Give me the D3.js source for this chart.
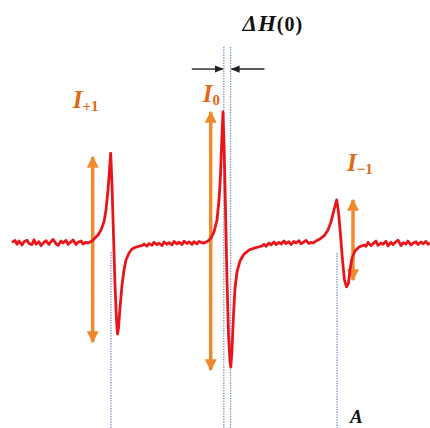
<!DOCTYPE html>
<html>
<head>
<meta charset="utf-8">
<script src="https://cdn.jsdelivr.net/npm/d3@7/dist/d3.min.js"></script>
<style>
  html, body { margin: 0; padding: 0; background: #fff; }
  svg { display: block; }
</style>
</head>
<body>
<div id="chart"></div>
<script>
"use strict";

// == DATA ==
// EPR spectrum, [field (G), signal (normalised)]
var baselineLeft = [
  [3312, 0.005], [3315, 0.02], [3317, -0.01], [3319, 0.015], [3322, -0.015],
  [3324, 0.01], [3327, 0.022], [3329, -0.004], [3332, -0.012], [3334, 0.025],
  [3336, -0.008], [3339, 0.01], [3341, -0.02], [3344, 0.005], [3346, 0.018],
  [3349, -0.01], [3351, 0.012], [3353, 0.028], [3356, -0.005], [3358, -0.018],
  [3361, 0.015], [3363, 0.0], [3366, 0.02], [3368, -0.01], [3371, 0.008],
  [3373, 0.024], [3376, -0.012], [3378, 0.005], [3381, 0.016], [3383, -0.008],
  [3386, 0.006]
];
var linePlus1 = [
  [3388, 0], [3392, 0.015], [3395, 0.038], [3398, 0.062], [3401, 0.1],
  [3404, 0.162], [3406, 0.254], [3408, 0.408], [3409.5, 0.562], [3410.7, 0.692],
  [3412, 0.446], [3413.5, 0.062], [3415, -0.323], [3416.5, -0.592], [3417.5, -0.7],
  [3418.5, -0.654], [3420, -0.5], [3422, -0.323], [3424, -0.208], [3426, -0.131],
  [3429, -0.077], [3432, -0.046], [3436, -0.031], [3440, -0.023]
];
var baselineMid1 = [
  [3442, -0.02], [3444, -0.008], [3447, -0.024], [3449, -0.005], [3452, -0.018],
  [3454, 0.005], [3457, -0.012], [3459, -0.002], [3462, -0.02], [3464, 0.008],
  [3467, -0.01], [3469, 0.003], [3472, -0.014], [3474, 0.012], [3477, -0.006],
  [3479, 0.006], [3482, -0.012], [3484, 0.014], [3487, -0.004], [3489, 0.008],
  [3492, -0.01], [3494, 0.01], [3497, -0.006], [3499, 0.012], [3502, 0.002]
];
var lineZero = [
  [3504, 0], [3508, 0.015], [3511, 0.038], [3514, 0.085], [3517, 0.177],
  [3519, 0.331], [3520.5, 0.523], [3521.8, 0.792], [3523, 1.008], [3524.2, 0.715],
  [3525.5, 0.254], [3527, -0.285], [3528.5, -0.708], [3530, -0.915], [3530.8, -0.954],
  [3532, -0.823], [3533.5, -0.554], [3535, -0.346], [3537, -0.223], [3540, -0.138],
  [3544, -0.085], [3549, -0.054], [3555, -0.038], [3562, -0.023]
];
var baselineMid2 = [
  [3564, -0.01], [3566, -0.026], [3569, 0.0], [3571, -0.015], [3574, 0.008],
  [3576, -0.012], [3579, 0.005], [3581, -0.008], [3584, 0.016], [3586, -0.005],
  [3589, 0.01], [3591, -0.012], [3594, 0.012], [3596, 0.0], [3599, 0.018],
  [3601, -0.006], [3604, 0.008], [3606, 0.02], [3609, -0.004], [3611, 0.005]
];
var lineMinus1 = [
  [3613, 0], [3616, 0.015], [3620, 0.031], [3624, 0.054], [3628, 0.1],
  [3631, 0.162], [3634, 0.254], [3636.7, 0.331], [3638.5, 0.238], [3640.5, 0.062],
  [3642.5, -0.131], [3644.5, -0.285], [3646.5, -0.338], [3648.5, -0.308], [3650, -0.208],
  [3652, -0.115], [3655, -0.062], [3659, -0.031], [3664, -0.015]
];
var baselineRight = [
  [3666, -0.025], [3668, 0.005], [3671, -0.02], [3673, -0.005], [3676, 0.015],
  [3678, -0.018], [3681, 0.0], [3683, -0.01], [3686, 0.014], [3688, -0.022],
  [3691, 0.005], [3693, -0.012], [3696, 0.01], [3698, 0.022], [3701, -0.02],
  [3703, 0.002], [3706, -0.008], [3708, 0.015], [3711, -0.015], [3713, -0.002],
  [3716, 0.01], [3718, -0.012], [3721, 0.008], [3723, -0.006], [3726, 0.012],
  [3728, -0.01], [3730, 0.0]
];

// intensity arrows: field, top, bottom (signal units)
var intensityLabels = ["+1", "0", "\u22121"];
var intensityField  = [3392.7, 3510.7, 3653];
var intensityTop    = [0.662, 1.008, 0.331];
var intensityBottom = [-0.762, -0.977, -0.285];

// dotted guide lines: field and top (signal units)
var guideField = [3411, 3523.8, 3530.5, 3637];
var guideTop   = [-0.07, 1.508, 1.508, -0.077];

// ΔH(0) markers
var deltaHLevel = 1.338;
var deltaHLength = 32;

// == BOILERPLATE ==
var width = 430, height = 428;

var svg = d3.select("#chart")
  .append("svg")
  .attr("width", width)
  .attr("height", height);

var x = d3.scaleLinear()
  .domain([3300, 3730])
  .range([0, width]);

var y = d3.scaleLinear()
  .domain([-1, 1])
  .range([373, 113]);

var yBottom = -1.45;

var defs = svg.append("defs");
defs.append("marker")
  .attr("id", "orangeHead")
  .attr("viewBox", "0 0 10 10")
  .attr("refX", 9).attr("refY", 5)
  .attr("markerUnits", "userSpaceOnUse")
  .attr("markerWidth", 12).attr("markerHeight", 12)
  .attr("orient", "auto-start-reverse")
  .append("path")
  .attr("d", "M0,0 L10,5 L0,10 z")
  .attr("fill", "#f08a2c");

defs.append("marker")
  .attr("id", "blackHead")
  .attr("viewBox", "0 0 10 10")
  .attr("refX", 9).attr("refY", 5)
  .attr("markerUnits", "userSpaceOnUse")
  .attr("markerWidth", 9).attr("markerHeight", 9)
  .attr("orient", "auto")
  .append("path")
  .attr("d", "M0,1 L10,5 L0,9 z")
  .attr("fill", "#222");

// dotted guides
svg.selectAll(".guide")
  .data(guideField)
  .enter().append("line")
  .attr("class", "guide")
  .attr("x1", function(d) { return x(d); })
  .attr("x2", function(d) { return x(d); })
  .attr("y1", function(d, i) { return y(guideTop[i]); })
  .attr("y2", y(yBottom))
  .attr("stroke", "#6f8fbf")
  .attr("stroke-width", 1.3)
  .attr("stroke-dasharray", "1.3,1.3");

// orange intensity arrows
svg.selectAll(".iarrow")
  .data(intensityField)
  .enter().append("line")
  .attr("class", "iarrow")
  .attr("x1", function(d) { return x(d); })
  .attr("x2", function(d) { return x(d); })
  .attr("y1", function(d, i) { return y(intensityTop[i]); })
  .attr("y2", function(d, i) { return y(intensityBottom[i]); })
  .attr("stroke", "#f08a2c")
  .attr("stroke-width", 3.5)
  .attr("marker-start", "url(#orangeHead)")
  .attr("marker-end", "url(#orangeHead)");

// spectrum
var spectrum = [].concat(baselineLeft, linePlus1, baselineMid1, lineZero,
                         baselineMid2, lineMinus1, baselineRight);
var line = d3.line()
  .x(function(d) { return x(d[0]); })
  .y(function(d) { return y(d[1]); });

svg.append("path")
  .datum(spectrum)
  .attr("d", line)
  .attr("fill", "none")
  .attr("stroke", "#e8161b")
  .attr("stroke-width", 2.8)
  .attr("stroke-linejoin", "round");

// intensity labels
var labelDx = [-20, -8, -6];
var labelDy = [-49, -10, -29];
var labels = svg.selectAll(".ilabel")
  .data(intensityLabels)
  .enter().append("text")
  .attr("class", "ilabel")
  .attr("x", function(d, i) { return x(intensityField[i]) + labelDx[i]; })
  .attr("y", function(d, i) { return y(intensityTop[i]) + labelDy[i]; })
  .attr("font-family", "'Liberation Serif', 'DejaVu Serif', serif")
  .attr("font-weight", "bold")
  .attr("font-style", "italic")
  .attr("fill", "#e06a14");
labels.append("tspan").attr("font-size", 25).text("I");
labels.append("tspan")
  .attr("font-size", 15)
  .attr("font-style", "normal")
  .attr("dy", 3)
  .text(function(d) { return d; });

// ΔH(0) arrows
var dh = [
  { from: guideField[1] - deltaHLength, to: guideField[1] - 1 },
  { from: guideField[2] + deltaHLength + 2, to: guideField[2] + 1 }
];
svg.selectAll(".dharrow")
  .data(dh)
  .enter().append("line")
  .attr("class", "dharrow")
  .attr("x1", function(d) { return x(d.from); })
  .attr("x2", function(d) { return x(d.to); })
  .attr("y1", y(deltaHLevel))
  .attr("y2", y(deltaHLevel))
  .attr("stroke", "#222")
  .attr("stroke-width", 1.4)
  .attr("marker-end", "url(#blackHead)");

var dhText = svg.append("text")
  .attr("x", x(guideField[2]) + 12)
  .attr("y", 31)
  .attr("font-family", "'Liberation Serif', 'DejaVu Serif', serif")
  .attr("font-weight", "bold")
  .attr("letter-spacing", 1)
  .attr("fill", "#111");
dhText.append("tspan").attr("font-style", "italic").attr("font-size", 23).text("\u0394H");
dhText.append("tspan").attr("font-size", 20).text("(0)");

// field axis label
svg.append("text")
  .attr("x", x(guideField[3]) + 13)
  .attr("y", 423)
  .attr("font-family", "'Liberation Serif', 'DejaVu Serif', serif")
  .attr("font-weight", "bold")
  .attr("font-style", "italic")
  .attr("font-size", 19)
  .attr("fill", "#111")
  .text("A");
</script>
</body>
</html>
